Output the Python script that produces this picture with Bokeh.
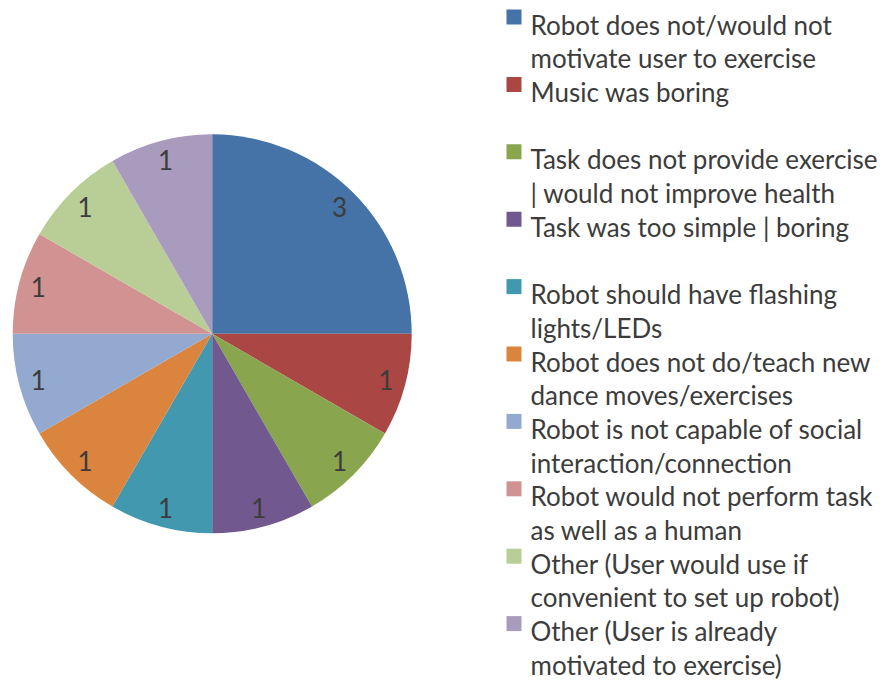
from bokeh.plotting import figure
from bokeh.models import Range1d, ColumnDataSource
from bokeh.core.properties import value
from bokeh.embed import file_html
from bokeh.resources import INLINE
import numpy as np

# ---- data ----
categories = [
    "Robot does not/would not motivate user to exercise",
    "Music was boring",
    "Task does not provide exercise | would not improve health",
    "Task was too simple | boring",
    "Robot should have flashing lights/LEDs",
    "Robot does not do/teach new dance moves/exercises",
    "Robot is not capable of social interaction/connection",
    "Robot would not perform task as well as a human",
    "Other (User would use if convenient to set up robot)",
    "Other (User is already motivated to exercise)",
]
counts = [3, 1, 1, 1, 1, 1, 1, 1, 1, 1]
legend_lines = [
    ["Robot does not/would not", "motivate user to exercise"],
    ["Music was boring"],
    ["Task does not provide exercise", "| would not improve health"],
    ["Task was too simple | boring"],
    ["Robot should have flashing", "lights/LEDs"],
    ["Robot does not do/teach new", "dance moves/exercises"],
    ["Robot is not capable of social", "interaction/connection"],
    ["Robot would not perform task", "as well as a human"],
    ["Other (User would use if", "convenient to set up robot)"],
    ["Other (User is already", "motivated to exercise)"],
]
colors = ["#4572A7", "#AA4643", "#89A54E", "#71588F", "#4198AF",
          "#DB843D", "#93A9CF", "#D19392", "#B9CD96", "#A99BBD"]

# ---- layout ----
W, H = 879, 684
FONT = "Lato"
FSIZE = "26px"
TXT = "#3c3c3c"

p = figure(width=W, height=H, x_range=Range1d(0, W), y_range=Range1d(0, H),
           output_backend="svg", toolbar_location=None, min_border=0,
           x_axis_location=None, y_axis_location=None)
p.grid.visible = False
p.outline_line_color = None

def py(page_y):
    return H - page_y

cx, cy, R = 211.7, py(333.3), 199.5

vals = np.array(counts, dtype=float)
total = vals.sum()
cum = np.concatenate([[0], np.cumsum(vals)])
start = np.pi / 2 - 2 * np.pi * cum[:-1] / total
end = np.pi / 2 - 2 * np.pi * cum[1:] / total
mid = (start + end) / 2

src = ColumnDataSource(dict(start=start, end=end, color=colors,
                            lx=cx + 180 * np.cos(mid), ly=cy + 180 * np.sin(mid),
                            lab=[str(c) for c in counts]))
p.wedge(x=cx, y=cy, radius=R, start_angle="start", end_angle="end",
        direction="clock", fill_color="color", line_color=None, source=src)
p.text(x="lx", y="ly", text="lab", source=src, text_align="center",
       text_baseline="middle", text_font=value(FONT), text_font_size=FSIZE,
       text_color=TXT)

# legend
tx, ty, tt = [], [], []
sx, sy = [], []
for i, lines in enumerate(legend_lines):
    for j, line in enumerate(lines):
        base = 24 + 33.7 * (2 * i + j)
        tx.append(530)
        ty.append(py(base))
        tt.append(line)
    base0 = 24 + 33.7 * (2 * i)
    sx.append(513.5)
    sy.append(py(base0 - 7.5))

p.rect(x=sx, y=sy, width=15, height=15, fill_color=colors, line_color=None)
p.text(x=tx, y=ty, text=tt, text_align="left", text_baseline="alphabetic",
       text_font=value(FONT), text_font_size=FSIZE, text_color=TXT)

open("out.html", "w").write(file_html(p, INLINE))
